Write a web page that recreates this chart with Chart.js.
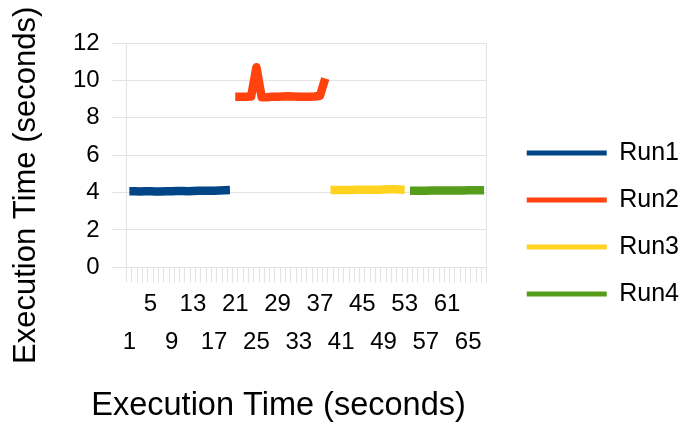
<!DOCTYPE html>
<html>
<head>
<meta charset="utf-8">
<script src="https://cdn.jsdelivr.net/npm/chart.js@4.4.0/dist/chart.umd.min.js"></script>
<style>
  html, body { margin: 0; padding: 0; background: #ffffff; }
  canvas { display: block; }
</style>
</head>
<body>
<canvas id="chart" width="685" height="427"></canvas>
<script>
// Sample numbers along the x axis
const categories = [
  '1','2','3','4','5','6','7','8','9','10','11','12','13','14','15','16','17',
  '18','19','20','21','22','23','24','25','26','27','28','29','30','31','32','33',
  '34','35','36','37','38','39','40','41','42','43','44','45','46','47','48','49',
  '50','51','52','53','54','55','56','57','58','59','60','61','62','63','64','65',
  '66','67','68'
];

// Tick labels, drawn on two staggered rows
const upperTickLabels = ['5', '13', '21', '29', '37', '45', '53', '61'];
const lowerTickLabels = ['1', '9', '17', '25', '33', '41', '49', '57', '65'];

// Each run occupies its own stretch of samples
const seriesNames = ['Run1', 'Run2', 'Run3', 'Run4'];
const seriesColors = ['#004586', '#ff420e', '#ffd320', '#579d1c'];

const run1Start = 1;
const run1 = [4.07, 4.07, 4.06, 4.07, 4.07, 4.06, 4.06, 4.07, 4.07, 4.08,
              4.08, 4.07, 4.08, 4.09, 4.09, 4.10, 4.10, 4.11, 4.12, 4.13];

const run2Start = 21;
const run2 = [9.12, 9.12, 9.12, 9.14, 10.7, 9.10, 9.10, 9.12, 9.12, 9.14,
              9.15, 9.14, 9.13, 9.12, 9.12, 9.14, 9.18, 10.1];

const run3Start = 39;
const run3 = [4.13, 4.14, 4.14, 4.14, 4.14, 4.15, 4.15, 4.15, 4.15, 4.15,
              4.16, 4.17, 4.17, 4.16, 4.15];

const run4Start = 54;
const run4 = [4.10, 4.10, 4.10, 4.10, 4.11, 4.11, 4.11, 4.11, 4.11, 4.11,
              4.11, 4.12, 4.12, 4.12, 4.12];

const yTicks = { min: 0, max: 12, step: 2 };

const axisTitle = 'Execution Time (seconds)';
const FONT = "'Liberation Sans', Arial, Helvetica, sans-serif";
const GRID = '#e3e3e3';

function toPoints(start, values) {
  return values.map((v, i) => ({ x: categories[start - 1 + i], y: v }));
}

const runs = [
  toPoints(run1Start, run1),
  toPoints(run2Start, run2),
  toPoints(run3Start, run3),
  toPoints(run4Start, run4)
];

const datasets = runs.map((pts, i) => ({
  label: seriesNames[i],
  data: pts,
  borderColor: seriesColors[i],
  backgroundColor: seriesColors[i],
  borderWidth: 8.5,
  borderCapStyle: 'butt',
  borderJoinStyle: 'round',
  pointRadius: 0,
  pointHoverRadius: 0,
  fill: false,
  tension: 0,
  spanGaps: false
}));

new Chart(document.getElementById('chart'), {
  type: 'line',
  data: { labels: categories, datasets },
  options: {
    responsive: false,
    devicePixelRatio: 1,
    animation: false,
    events: [],
    layout: { padding: { left: 1, right: -4, top: 43, bottom: 23 } },
    plugins: {
      tooltip: { enabled: false },
      title: {
        display: true,
        position: 'bottom',
        align: 'start',
        text: '          ' + axisTitle,
        color: '#000000',
        font: { family: FONT, size: 32.5, weight: 'normal', lineHeight: 1.2 },
        padding: { top: 23.1, bottom: -22 }
      },
      legend: {
        display: true,
        position: 'right',
        align: 'center',
        maxWidth: 200,
        labels: {
          boxWidth: 80,
          boxHeight: 5,
          padding: 22,
          color: '#000000',
          font: { family: FONT, size: 25 },
          generateLabels(chart) {
            return chart.data.datasets.map((ds, i) => ({
              text: ds.label,
              fillStyle: ds.borderColor,
              strokeStyle: ds.borderColor,
              lineWidth: 0,
              hidden: false,
              datasetIndex: i,
              fontColor: '#000000'
            }));
          }
        }
      }
    },
    scales: {
      x: {
        type: 'category',
        offset: true,
        grid: {
          offset: true,
          drawOnChartArea: false,
          tickLength: 15,
          tickColor: GRID,
          color: GRID
        },
        border: { display: true, color: GRID },
        ticks: {
          autoSkip: false,
          maxRotation: 0,
          minRotation: 0,
          padding: 3,
          color: '#000000',
          font: { family: FONT, size: 24, lineHeight: 1.575 },
          callback(value, index) {
            const label = categories[index];
            if (upperTickLabels.includes(label)) return [label, ''];
            if (lowerTickLabels.includes(label)) return ['', label];
            return '';
          }
        }
      },
      y: {
        type: 'linear',
        position: 'left',
        min: yTicks.min,
        max: yTicks.max,
        grid: { color: GRID, tickColor: GRID, tickLength: 15 },
        border: { display: true, color: GRID },
        ticks: {
          stepSize: yTicks.step,
          padding: 12,
          color: '#000000',
          font: { family: FONT, size: 24 }
        },
        title: {
          display: true,
          text: axisTitle + '       ',
          color: '#000000',
          font: { family: FONT, size: 31, lineHeight: 1.2 },
          padding: { top: 6.4, bottom: 28.4 }
        },
        afterFit(scale) { scale.width = 125.7; }
      },
      y2: {
        type: 'linear',
        position: 'right',
        display: true,
        min: yTicks.min,
        max: yTicks.max,
        grid: { display: false, drawTicks: false },
        border: { display: true, color: GRID },
        ticks: { display: false },
        afterFit(scale) { scale.width = 18; }
      }
    }
  }
});
</script>
</body>
</html>
